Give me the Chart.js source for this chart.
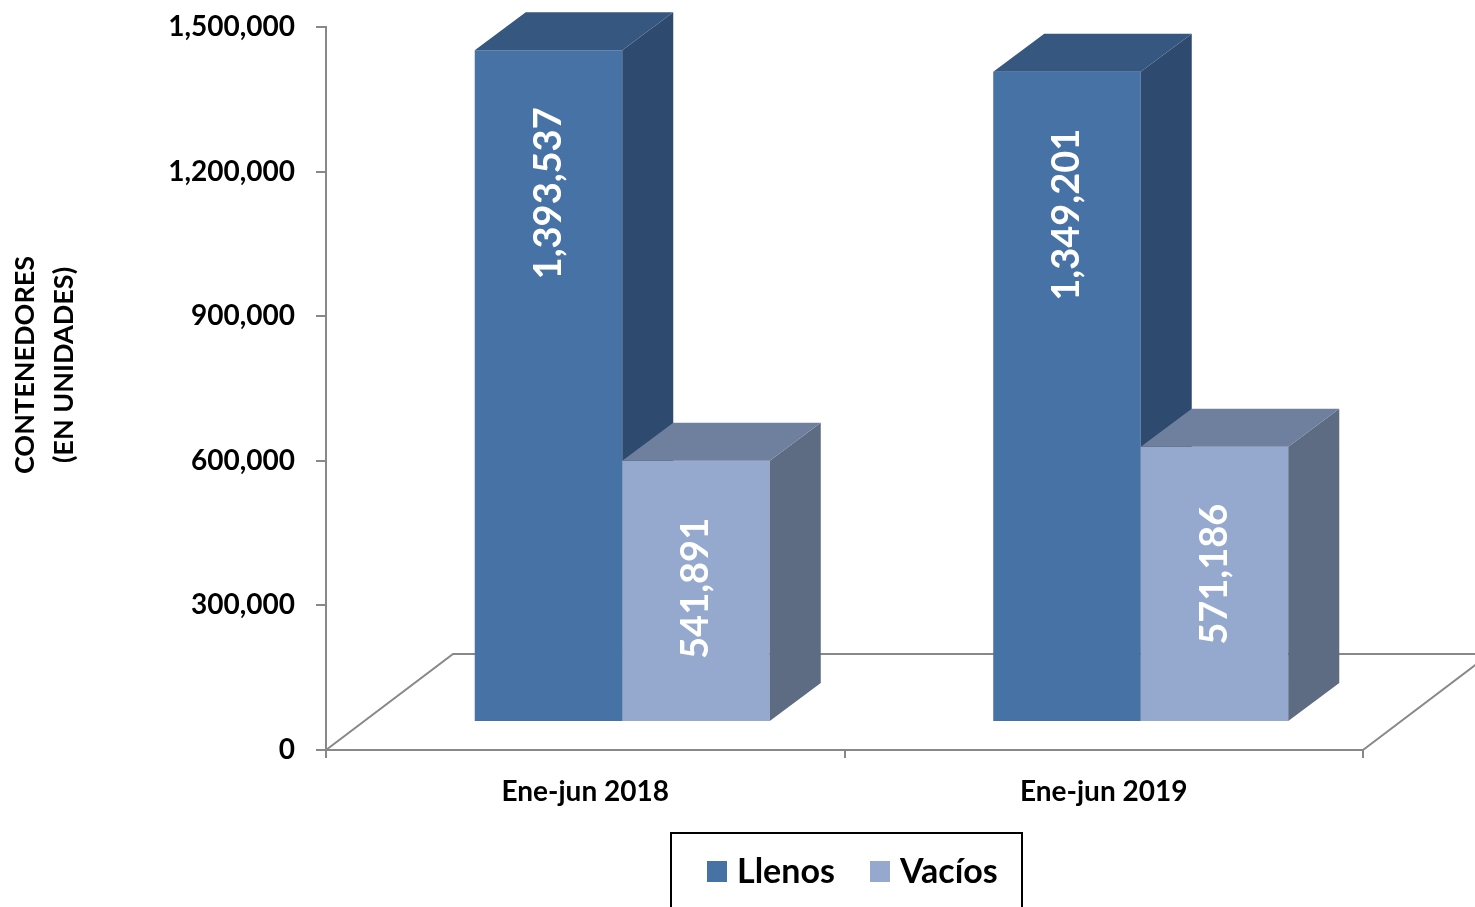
<!DOCTYPE html>
<html><head><meta charset="utf-8">
<script src="https://cdn.jsdelivr.net/npm/chart.js@4.4.0/dist/chart.umd.min.js"></script>
<style>html,body{margin:0;padding:0;background:#fff;overflow:hidden}canvas{display:block}</style>
</head><body>
<canvas id="c" width="1475" height="907"></canvas>
<script>
// ---- data ----
const categories = ['Ene-jun 2018', 'Ene-jun 2019'];
const llenos = [1393537, 1349201];
const vacios = [541891, 571186];
const seriesNames = ['Llenos', 'Vacíos'];
const yTicks = [0, 300000, 600000, 900000, 1200000, 1500000];
const yTitle = ['CONTENEDORES', '(EN UNIDADES)'];

// ---- styles ----
const FONT = 'Lato, "Open Sans", sans-serif';
const faceColors = [
  {front: '#4672A6', side: '#2E4A6E', top: '#36577F'},
  {front: '#95A9CF', side: '#5D6B83', top: '#6F7F9E'}
];
const FLOOR_DX = 127, FLOOR_DY = 96;
const BAR_DX = 51, BAR_DY = 38;
const SHIFT_X = 37, SHIFT_Y = 28;
const AXIS_COLOR = '#888888';
const fmt = v => v.toLocaleString('en-US');

const floorPlugin = {
  id: 'floor',
  beforeDatasetsDraw(chart) {
    const {ctx, chartArea: a} = chart;
    ctx.save();
    ctx.strokeStyle = AXIS_COLOR;
    ctx.lineWidth = 2;
    ctx.beginPath();
    ctx.moveTo(a.left, a.bottom);
    ctx.lineTo(a.left + FLOOR_DX, a.bottom - FLOOR_DY);
    ctx.lineTo(chart.width + 200, a.bottom - FLOOR_DY);
    ctx.moveTo(a.right, a.bottom);
    ctx.lineTo(a.right + FLOOR_DX, a.bottom - FLOOR_DY);
    ctx.stroke();
    ctx.restore();
  },
  // bars are drawn below, in series order, so that each 3D box covers the previous one
  beforeDatasetDraw() { return false; },
  afterDatasetsDraw(chart) {
    const ctx = chart.ctx;
    ctx.save();
    ctx.translate(SHIFT_X, -SHIFT_Y);
    const nCat = chart.data.labels.length;
    for (let i = 0; i < nCat; i++) {
      chart.data.datasets.forEach((ds, d) => {
        const meta = chart.getDatasetMeta(d);
        const el = meta.data[i];
        const c = faceColors[d];
        el.draw(ctx);
        const {x, y, base, width} = el.getProps(['x', 'y', 'base', 'width'], true);
        const l = x - width / 2, r = x + width / 2;
        ctx.fillStyle = c.side;
        ctx.beginPath();
        ctx.moveTo(r, y); ctx.lineTo(r + BAR_DX, y - BAR_DY);
        ctx.lineTo(r + BAR_DX, base - BAR_DY); ctx.lineTo(r, base);
        ctx.closePath(); ctx.fill();
        ctx.fillStyle = c.top;
        ctx.beginPath();
        ctx.moveTo(l, y); ctx.lineTo(l + BAR_DX, y - BAR_DY);
        ctx.lineTo(r + BAR_DX, y - BAR_DY); ctx.lineTo(r, y);
        ctx.closePath(); ctx.fill();
        ctx.save();
        ctx.translate(x, y + 57);
        ctx.rotate(-Math.PI / 2);
        ctx.fillStyle = '#ffffff';
        ctx.font = 'bold 38px ' + FONT;
        ctx.textAlign = 'right';
        ctx.textBaseline = 'middle';
        ctx.fillText(fmt(ds.data[i]), 0, 0);
        ctx.restore();
      });
    }
    ctx.restore();
  },
  afterDraw(chart) {
    const ctx = chart.ctx;
    ctx.save();
    ctx.fillStyle = '#000';
    ctx.font = 'bold 27px ' + FONT;
    ctx.textAlign = 'center';
    ctx.textBaseline = 'middle';
    yTitle.forEach((t, i) => {
      ctx.save();
      ctx.translate(25 + i * 39, 365);
      ctx.rotate(-Math.PI / 2);
      ctx.fillText(t, 0, 0);
      ctx.restore();
    });
    ctx.strokeStyle = '#000';
    ctx.lineWidth = 2;
    ctx.strokeRect(671, 833, 351, 120);
    ctx.font = 'bold 34px ' + FONT;
    ctx.textAlign = 'left';
    const lx = [707, 870];
    seriesNames.forEach((n, i) => {
      ctx.fillStyle = faceColors[i].front;
      ctx.fillRect(lx[i], 861, 20, 21);
      ctx.fillStyle = '#000';
      ctx.fillText(n, lx[i] + 30, 872);
    });
    ctx.restore();
  }
};

const series = [llenos, vacios];
new Chart(document.getElementById('c'), {
  type: 'bar',
  data: {
    labels: categories,
    datasets: series.map((d, i) => ({
      label: seriesNames[i],
      data: d,
      backgroundColor: faceColors[i].front,
      borderWidth: 0,
      clip: false,
      barPercentage: 1,
      categoryPercentage: 0.569
    }))
  },
  options: {
    responsive: false,
    animation: false,
    devicePixelRatio: 1,
    layout: {padding: {left: 0, top: 27, right: 112, bottom: 97}},
    plugins: {legend: {display: false}, tooltip: {enabled: false}},
    scales: {
      x: {
        afterFit: s => { s.height = 60; },
        grid: {drawOnChartArea: false, color: AXIS_COLOR, lineWidth: 2, tickLength: 8, offset: true},
        border: {color: AXIS_COLOR, width: 2},
        ticks: {color: '#000', font: {family: FONT, size: 28, weight: 'bold'}, padding: 17}
      },
      y: {
        min: 0, max: 1500000,
        afterFit: s => { s.width = 326; s.paddingTop = 17; s.paddingBottom = 17; },
        afterBuildTicks: s => { s.ticks = yTicks.map(v => ({value: v})); },
        grid: {drawOnChartArea: false, color: AXIS_COLOR, lineWidth: 2, tickLength: 10},
        border: {color: AXIS_COLOR, width: 2},
        ticks: {color: '#000', font: {family: FONT, size: 28, weight: 'bold'}, padding: 21,
                callback: v => fmt(v)}
      }
    }
  },
  plugins: [floorPlugin]
});
</script>
</body></html>
